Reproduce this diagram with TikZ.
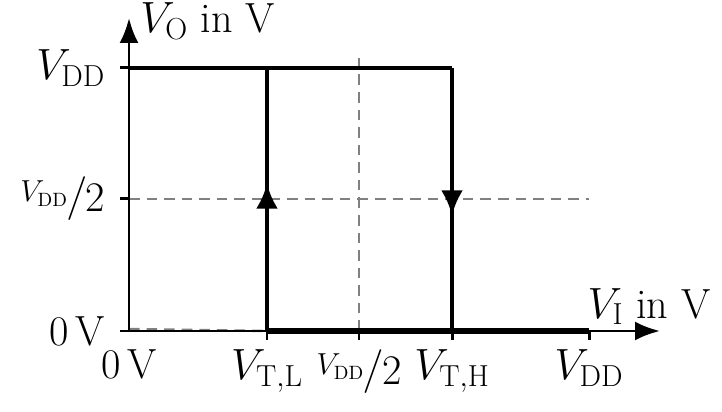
\documentclass[tikz,border=0pt]{standalone}
\usepackage{amsmath}
\usepackage{tikz}
\usetikzlibrary{arrows.meta, positioning, decorations.markings}
\tikzstyle{axis} = [line width=1.7pt, -{Latex[length=5mm,width=3.8mm]}]
\tikzstyle{curve} = [line width=2.2pt]
\tikzstyle{guide} = [line width=1.4pt, gray, dash pattern=on 6pt off 4pt]
\tikzstyle{tick} = [line width=1.7pt]
\tikzstyle{lbl} = [font=\fontsize{24}{28}\selectfont, inner sep=2pt]
\tikzstyle{midarrow} = [postaction={decorate}, decoration={markings, mark=at position 0.56 with {\arrow{Latex[length=5mm,width=4.4mm]}}}]
\newcommand{\halfdd}{\raisebox{0.45ex}{\fontsize{16}{18}\selectfont$V_{\mathrm{DD}}$}\kern-1pt$/$\kern-1pt\raisebox{-0.1ex}{2}}
\begin{document}
\begin{tikzpicture}[x=1cm, y=1cm]
    \useasboundingbox (-2.58,-1.62) rectangle (11.86,6.62);
    % points
    \coordinate (o) at (0,0);
    \coordinate (xend) at (10.62,0);
    \coordinate (yend) at (0,6.26);
    \coordinate (ltop) at (2.76,5.26);
    \coordinate (lbot) at (2.76,0);
    \coordinate (htop) at (6.46,5.26);
    \coordinate (hbot) at (6.46,0);
    \coordinate (rend) at (9.2,0);
    \coordinate (ytop) at (0,5.26);
    % guides
    \draw [guide] (0,2.64) -- (9.2,2.64);
    \draw [guide] (4.6,0) -- (4.6,5.46);
    \draw [guide] (0,0.04) -- (lbot);
    % axes
    \draw [axis] (o) -- (xend);
    \draw [axis] (o) -- (yend);
    \foreach \x in {2.76,4.6,6.46,9.2} \draw [tick] (\x,0) -- (\x,-0.18);
    \foreach \y in {2.64,5.26} \draw [tick] (0,\y) -- (-0.18,\y);
    \draw [tick] (0,0) -- (-0.18,0);
    % hysteresis
    \draw [curve] (ytop) -- (htop);
    \draw [curve, midarrow] (htop) -- (hbot);
    \draw [curve, midarrow] (lbot) -- (ltop);
    \draw [curve, line width=3.5pt] (lbot) -- (rend);
    % labels
    \node (ylab) [lbl, anchor=west] at (0.15,6.2) {$V_{\mathrm{O}}$ in V};
    \node (xlab) [lbl, anchor=south] at (10.4,0.05) {$V_{\mathrm{I}}$ in V};
    \node (ydd) [lbl, anchor=east] at (-0.4,5.26) {$V_{\mathrm{DD}}$};
    \node (yhalf) [lbl, anchor=east] at (-0.4,2.64) {\halfdd};
    \node (yzero) [lbl, anchor=east] at (-0.4,0) {0\,V};
    \node (xzero) [lbl, anchor=north] at (0,-0.3) {0\,V};
    \node (xtl) [lbl, anchor=north] at (2.76,-0.3) {$V_{\mathrm{T,L}}$};
    \node (xhalf) [lbl, anchor=north] at (4.6,-0.3) {\halfdd};
    \node (xth) [lbl, anchor=north] at (6.46,-0.3) {$V_{\mathrm{T,H}}$};
    \node (xdd) [lbl, anchor=north] at (9.2,-0.3) {$V_{\mathrm{DD}}$};
\end{tikzpicture}
\end{document}
